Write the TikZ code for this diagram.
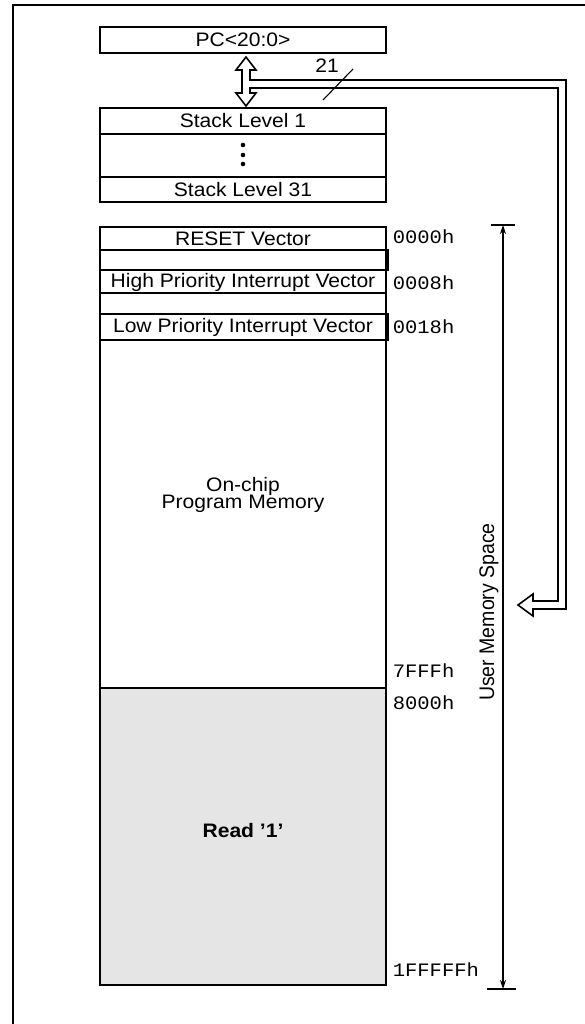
\documentclass[tikz,border=0pt]{standalone}
\usepackage{fontspec}
\setmainfont{Liberation Sans}
\newfontfamily\monof{Liberation Mono}
\usetikzlibrary{arrows.meta}
\newcommand{\hs}[1]{\scalebox{1.08}[1]{#1}}
\definecolor{memgray}{RGB}{229,229,229}
\begin{document}
\begin{tikzpicture}[x=1pt,y=-1pt, line width=1.6pt,
  lbl/.style={font=\fontsize{19.5}{22}\selectfont, inner sep=0pt},
  addr/.style={font=\monof\fontsize{19}{22}\selectfont, anchor=west, inner sep=0pt},
  box/.style={draw, line width=1.6pt},
  dim/.style={line width=1.6pt}]
\useasboundingbox (0,0) rectangle (585,1024);
% frame
\draw (13,1024) -- (13,5) -- (585,5);

% PC box
\draw[box] (100,27) rectangle (386,53);
\node[lbl] (pc) at (243,40) {\hs{PC<20:0>}};

% stack
\draw[box] (100,108) rectangle (386,202);
\draw (100,134) -- (386,134);
\draw (100,177) -- (386,177);
\node[lbl] (s1) at (243,121) {\hs{Stack Level 1}};
\fill (243,145) circle (2.3);
\fill (243,155) circle (2.3);
\fill (243,164) circle (2.3);
\node[lbl] (s31) at (243,190) {\hs{Stack Level 31}};

% memory
\fill[memgray] (100,688) rectangle (386,985);
\draw[box] (100,227) rectangle (386,985);
\draw (100,688) -- (386,688);
\draw (100,250) -- (386,250);
\draw (100,293) -- (386,293);
\draw[box] (100,250) rectangle (388,270);
\draw[box] (100,314) rectangle (388,340);
\node[lbl] (reset) at (243,238.5) {\hs{RESET Vector}};
\node[lbl] (hpi) at (243,282) {\hs{High Priority Interrupt Vector}};
\node[lbl] (lpi) at (243,327) {\hs{Low Priority Interrupt Vector}};
\node[lbl] (oc1) at (243,486) {\hs{On-chip}};
\node[lbl] (oc2) at (243,504) {\hs{Program Memory}};
\node[lbl, font=\fontsize{19.5}{22}\selectfont\bfseries] (rd) at (243,831) {\hs{Read '1'}};

% addresses
\node[addr] (a0) at (392,237) {\hs{0000h}};
\node[addr] (a8) at (392,283) {\hs{0008h}};
\node[addr] (a18) at (392,327) {\hs{0018h}};
\node[addr] (a7f) at (392,671) {\hs{7FFFh}};
\node[addr] (a80) at (392,703) {\hs{8000h}};
\node[addr] (a1f) at (392,970) {\hs{1FFFFFh}};

% user memory space dimension
\coordinate (ut) at (503,225);
\coordinate (ub) at (503,989);
\draw[dim] (491,225) -- (515,225);
\draw[dim] (487,989) -- (516,989);
\draw[dim, {Stealth[length=9pt,width=6pt]}-{Stealth[length=9pt,width=6pt]}] (ut) -- (ub);
\node[lbl, rotate=90] (ums) at (489,612) {\scalebox{1}[1.08]{User Memory Space}};

% bus arrow
\draw[fill=white, line join=miter] (246,57) -- (256,70) -- (250,70) -- (250,80) -- (566,80)
  -- (566,609) -- (533,609) -- (533,616) -- (518,605) -- (533,594) -- (533,601)
  -- (558,601) -- (558,88) -- (250,88) -- (250,93) -- (256,93) -- (246,106)
  -- (236,93) -- (242,93) -- (242,70) -- (236,70) -- cycle;
\draw[line width=1.1pt] (323,100) -- (353,69);
\node[lbl] (n21) at (327,66) {\hs{21}};
\end{tikzpicture}
\end{document}
